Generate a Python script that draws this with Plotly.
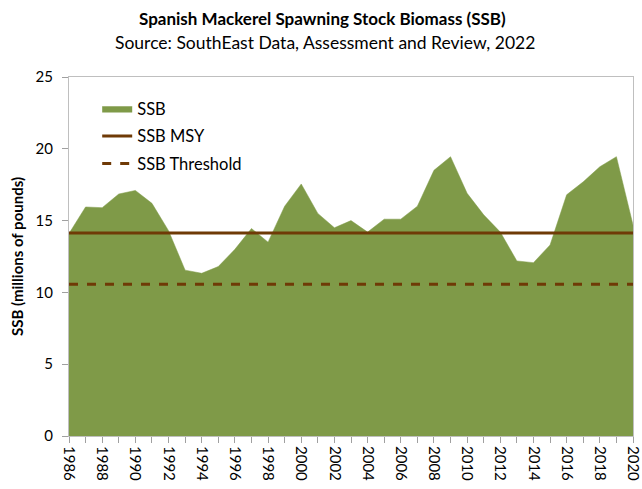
import plotly.graph_objects as go

years = list(range(1986, 2021))
ssb = [14.1, 15.95, 15.9, 16.85, 17.1, 16.2, 14.3, 11.55, 11.33, 11.8, 13.0, 14.45,
       13.5, 16.0, 17.55, 15.5, 14.5, 15.0, 14.2, 15.1, 15.1, 16.0, 18.5, 19.45,
       16.9, 15.4, 14.2, 12.19, 12.07, 13.3, 16.8, 17.7, 18.75, 19.45, 14.7]
tick_years = years[::2]
tick_labels = [str(y) for y in tick_years]
msy_value = 14.13
threshold_value = 10.56
title_text = "Spanish Mackerel Spawning Stock Biomass (SSB)"
subtitle_text = "Source: SouthEast Data, Assessment and Review, 2022"
y_title = "SSB (millions of pounds)"

green = "#7F9A48"
brown = "#6F3A06"
font_family = "Lato, Liberation Sans, Arial, sans-serif"

fig = go.Figure()
fig.add_trace(go.Scatter(x=years, y=ssb, mode="lines", fill="tozeroy",
                         fillcolor=green, line=dict(color=green, width=0.5),
                         name="SSB", legendgroup="a", hoverinfo="skip"))
fig.add_trace(go.Scatter(x=[years[0], years[-1]], y=[msy_value, msy_value], mode="lines",
                         line=dict(color=brown, width=3), name="SSB MSY", legendgroup="b",
                         hoverinfo="skip"))
fig.add_trace(go.Scatter(x=[years[0], years[-1]], y=[threshold_value, threshold_value],
                         mode="lines", line=dict(color=brown, width=3, dash="dash"),
                         name="SSB Threshold", legendgroup="c", hoverinfo="skip"))

fig.update_layout(
    width=642, height=489,
    paper_bgcolor="white", plot_bgcolor="white",
    margin=dict(l=69, r=9, t=77, b=53, autoexpand=False),
    font=dict(family=font_family, color="black", size=15),
    showlegend=True,
    legend=dict(x=0.05, y=0.96, xanchor="left", yanchor="top",
                bgcolor="rgba(0,0,0,0)", font=dict(size=16.5),
                itemwidth=30, tracegroupgap=3),
    annotations=[
        dict(text="<b>" + title_text + "</b>", xref="paper", yref="paper",
             x=(322 - 69) / 564, y=1, xanchor="center", yanchor="middle",
             yshift=77 - 18, showarrow=False,
             font=dict(size=17, family=font_family)),
        dict(text=subtitle_text, xref="paper", yref="paper",
             x=(325 - 69) / 564, y=1, xanchor="center", yanchor="middle",
             yshift=77 - 42, showarrow=False,
             font=dict(size=17.5, family=font_family)),
    ],
)

fig.update_xaxes(range=[1986, 2020], tickmode="array", tickvals=tick_years,
                 ticktext=tick_labels, ticklabeloverflow="allow",
                 tickangle=90, ticks="outside", ticklen=6, tickcolor="#A0A0A0",
                 showline=True, linecolor="#BFBFBF", mirror=True, showgrid=False,
                 zeroline=False, tickfont=dict(size=15), automargin=False,
                 minor=dict(tickmode="array", tickvals=years, ticks="outside",
                            ticklen=6, tickcolor="#A0A0A0"))
fig.update_yaxes(range=[0, 25], tickmode="linear", dtick=5, ticks="outside",
                 ticklen=6, tickcolor="#A0A0A0", showline=True, linecolor="#BFBFBF",
                 mirror=True, showgrid=False, zeroline=False, tickfont=dict(size=15),
                 ticklabelstandoff=6, automargin=False,
                 title=dict(text="<b>" + y_title + "</b>", font=dict(size=15),
                            standoff=8))

fig.write_html("out.html", config={"displayModeBar": False},
               post_script="document.body.style.margin='0';document.body.style.padding='0';")
